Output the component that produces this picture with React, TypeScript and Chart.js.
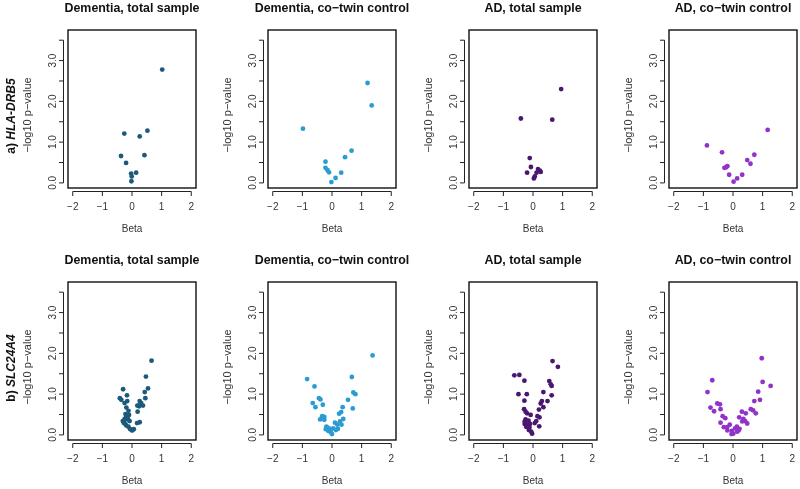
import { useEffect, useRef } from "react";
import { Chart, registerables } from "chart.js";
Chart.register(...registerables);

const FONT = "'Liberation Sans', Arial, sans-serif";

const panelTitles = [
  "Dementia, total sample",
  "Dementia, co\u2212twin control",
  "AD, total sample",
  "AD, co\u2212twin control",
];
const rowPrefixes = ["a) ", "b) "];
const rowGenes = ["HLA-DRB5", "SLC24A4"];
const panelColors = ["#1c5a7a", "#2b9cd1", "#4a1770", "#9232c8"];
const xTicks = [-2, -1, 0, 1, 2];
const yTicks = [0, 0.5, 1, 1.5, 2, 2.5, 3, 3.5];
const yLabelTicks = [0, 1, 2, 3];
const xTitle = "Beta";
const yTitle = "\u2212log10 p\u2212value";

// Row a) HLA-DRB5
const hlaDemTotalBeta = [1.02, 0.52, -0.26, 0.26, -0.37, 0.42, -0.2, -0.03, 0.14, -0.01, -0.02];
const hlaDemTotalLogP = [2.78, 1.28, 1.21, 1.14, 0.66, 0.68, 0.49, 0.23, 0.25, 0.16, 0.04];
const hlaDemTwinBeta = [1.2, 1.34, -0.98, 0.66, 0.44, -0.22, -0.22, -0.15, -0.1, 0.31, 0.12, -0.02];
const hlaDemTwinLogP = [2.45, 1.9, 1.33, 0.79, 0.63, 0.52, 0.37, 0.31, 0.26, 0.25, 0.12, 0.02];
const hlaAdTotalBeta = [0.95, -0.41, 0.65, -0.11, -0.07, -0.2, 0.17, 0.23, 0.12, 0.26, 0.06, 0.03];
const hlaAdTotalLogP = [2.3, 1.58, 1.55, 0.61, 0.39, 0.25, 0.34, 0.3, 0.25, 0.27, 0.16, 0.11];
const hlaAdTwinBeta = [1.17, -0.88, -0.37, 0.72, 0.48, 0.59, -0.19, -0.29, -0.24, -0.13, 0.31, 0.14, 0.02];
const hlaAdTwinLogP = [1.3, 0.92, 0.75, 0.69, 0.56, 0.47, 0.41, 0.37, 0.38, 0.2, 0.2, 0.11, 0.03];

// Row b) SLC24A4
const slcDemTotalBeta = [0.66, 0.47, 0.54, -0.3, 0.43, -0.17, -0.41, -0.36, -0.16, 0.45, 0.26, 0.31, 0.18, 0.37, 0.24, -0.25, -0.19, -0.12, 0.19, -0.22, -0.19, -0.14, -0.25, -0.15, -0.31, -0.08, -0.26, 0.17, 0.26, -0.19, -0.12, -0.06, 0.0, 0.06, -0.22, -0.28, 0.22, 0.3, -0.1, 0.02];
const slcDemTotalLogP = [1.82, 1.43, 1.14, 1.12, 1.05, 0.97, 0.9, 0.86, 0.83, 0.9, 0.83, 0.78, 0.72, 0.72, 0.7, 0.78, 0.67, 0.59, 0.57, 0.51, 0.45, 0.4, 0.39, 0.38, 0.34, 0.34, 0.29, 0.29, 0.31, 0.23, 0.2, 0.14, 0.11, 0.14, 0.26, 0.3, 0.72, 0.75, 0.49, 0.12];
const slcDemTwinBeta = [1.37, -0.84, 0.67, -0.59, 0.72, 0.79, -0.44, -0.39, 0.54, -0.65, -0.56, -0.31, 0.36, 0.7, 0.31, 0.24, -0.33, -0.26, -0.4, -0.26, 0.38, 0.27, 0.1, 0.18, 0.32, -0.19, -0.1, -0.21, 0.04, 0.13, -0.13, -0.04, 0.0, 0.2, -0.05, -0.15];
const slcDemTwinLogP = [1.95, 1.37, 1.42, 1.19, 1.04, 1.0, 0.9, 0.87, 0.86, 0.78, 0.68, 0.74, 0.68, 0.65, 0.56, 0.52, 0.46, 0.44, 0.38, 0.37, 0.39, 0.33, 0.3, 0.25, 0.25, 0.2, 0.16, 0.14, 0.16, 0.12, 0.1, 0.06, 0.02, 0.15, 0.12, 0.18];
const slcAdTotalBeta = [0.66, 0.84, -0.63, -0.46, -0.29, 0.55, 0.6, 0.63, -0.49, -0.21, 0.35, 0.63, -0.29, 0.3, 0.49, 0.26, 0.35, -0.3, 0.2, -0.25, -0.2, -0.08, 0.15, 0.22, -0.25, -0.15, 0.11, 0.06, -0.28, -0.19, -0.1, 0.21, -0.23, -0.12, -0.14, -0.06, -0.03, -0.28];
const slcAdTotalLogP = [1.81, 1.67, 1.46, 1.47, 1.33, 1.32, 1.24, 1.2, 1.0, 1.0, 1.05, 0.97, 0.84, 0.83, 0.83, 0.77, 0.68, 0.63, 0.62, 0.57, 0.53, 0.49, 0.46, 0.43, 0.38, 0.35, 0.34, 0.29, 0.27, 0.25, 0.27, 0.21, 0.2, 0.18, 0.12, 0.08, 0.03, 0.33];
const slcAdTwinBeta = [0.97, -0.7, 1.0, 1.27, -0.86, 0.85, 0.91, 0.72, -0.53, -0.44, -0.76, -0.42, -0.64, 0.6, 0.68, 0.77, 0.3, 0.43, -0.35, -0.26, 0.21, 0.35, -0.42, 0.41, 0.48, 0.31, -0.31, -0.2, -0.11, -0.19, -0.04, 0.01, -0.05, 0.13, 0.19, 0.14, 0.22, 0.07];
const slcAdTwinLogP = [1.88, 1.34, 1.3, 1.2, 1.05, 1.06, 0.86, 0.83, 0.77, 0.75, 0.67, 0.63, 0.58, 0.63, 0.6, 0.53, 0.57, 0.53, 0.46, 0.41, 0.43, 0.39, 0.3, 0.34, 0.28, 0.33, 0.19, 0.19, 0.25, 0.11, 0.1, 0.03, 0.02, 0.2, 0.11, 0.08, 0.15, 0.16];

const panelData = [
  [
    [hlaDemTotalBeta, hlaDemTotalLogP],
    [hlaDemTwinBeta, hlaDemTwinLogP],
    [hlaAdTotalBeta, hlaAdTotalLogP],
    [hlaAdTwinBeta, hlaAdTwinLogP],
  ],
  [
    [slcDemTotalBeta, slcDemTotalLogP],
    [slcDemTwinBeta, slcDemTwinLogP],
    [slcAdTotalBeta, slcAdTotalLogP],
    [slcAdTwinBeta, slcAdTwinLogP],
  ],
];

const CW = 264;
const CH = 237;

function fmtMinus(v: number, digits: number) {
  const s = Math.abs(v).toFixed(digits);
  return v < 0 ? "\u2212" + s : s;
}

const rAxesPlugin = {
  id: "rAxes",
  afterDraw(chart: any, _args: any, opts: any) {
    const { ctx, chartArea } = chart;
    const xs = chart.scales.x;
    const ys = chart.scales.y;
    const cx = (chartArea.left + chartArea.right) / 2;
    const cy = (chartArea.top + chartArea.bottom) / 2;
    ctx.save();
    // box
    ctx.strokeStyle = "#111";
    ctx.lineWidth = 1.4;
    ctx.strokeRect(chartArea.left, chartArea.top, chartArea.right - chartArea.left, chartArea.bottom - chartArea.top);
    // x axis
    ctx.lineWidth = 1;
    ctx.strokeStyle = "#222";
    const ax = chartArea.bottom + 3.5;
    ctx.beginPath();
    ctx.moveTo(xs.getPixelForValue(xTicks[0]), ax);
    ctx.lineTo(xs.getPixelForValue(xTicks[xTicks.length - 1]), ax);
    xTicks.forEach((v) => {
      const p = xs.getPixelForValue(v);
      ctx.moveTo(p, ax);
      ctx.lineTo(p, ax + 4.5);
    });
    ctx.stroke();
    // y axis
    const ay = chartArea.left - 4.5;
    ctx.beginPath();
    ctx.moveTo(ay, ys.getPixelForValue(yTicks[0]));
    ctx.lineTo(ay, ys.getPixelForValue(yTicks[yTicks.length - 1]));
    yTicks.forEach((v) => {
      const p = ys.getPixelForValue(v);
      ctx.moveTo(ay, p);
      ctx.lineTo(ay - 4.5, p);
    });
    ctx.stroke();
    // panel title
    ctx.fillStyle = "#111";
    ctx.textBaseline = "middle";
    ctx.textAlign = "center";
    ctx.font = `bold 12.4px ${FONT}`;
    ctx.fillText(opts.title, cx, 9);
    // y axis title
    ctx.save();
    ctx.translate(28, cy + 6);
    ctx.rotate(-Math.PI / 2);
    ctx.fillStyle = "#333";
    ctx.font = `11px ${FONT}`;
    ctx.fillText(yTitle, 0, 0);
    ctx.restore();
    // row label
    if (opts.gene) {
      ctx.translate(12, cy + 7);
      ctx.rotate(-Math.PI / 2);
      ctx.fillStyle = "#111";
      ctx.textBaseline = "middle";
      ctx.textAlign = "left";
      const f1 = `bold 12px ${FONT}`;
      const f2 = `italic bold 12px ${FONT}`;
      ctx.font = f1;
      const w1 = ctx.measureText(opts.prefix).width;
      ctx.font = f2;
      const w2 = ctx.measureText(opts.gene).width;
      const start = -(w1 + w2) / 2;
      ctx.font = f1;
      ctx.fillText(opts.prefix, start, 0);
      ctx.font = f2;
      ctx.fillText(opts.gene, start + w1, 0);
    }
    ctx.restore();
  },
};

function Panel({ row, col }: { row: number; col: number }) {
  const ref = useRef<HTMLCanvasElement | null>(null);
  useEffect(() => {
    if (!ref.current) return;
    const [bx, by] = panelData[row][col];
    const tickFont = { family: FONT, size: 10 };
    const chart = new Chart(ref.current, {
      type: "scatter",
      data: {
        datasets: [
          {
            data: bx.map((b, i) => ({ x: b, y: by[i] })),
            backgroundColor: panelColors[col],
            borderColor: panelColors[col],
            borderWidth: 0,
            pointRadius: 2.4,
          },
        ],
      },
      options: {
        responsive: false,
        animation: false,
        layout: { padding: { left: 0, right: 68, top: 30, bottom: 0 } },
        plugins: {
          legend: { display: false },
          tooltip: { enabled: false },
          title: { display: false },
          rAxes: {
            title: panelTitles[col],
            prefix: col === 0 ? rowPrefixes[row] : "",
            gene: col === 0 ? rowGenes[row] : "",
          },
        } as any,
        scales: {
          x: {
            type: "linear",
            min: -2.16,
            max: 2.16,
            afterBuildTicks: (s: any) => {
              s.ticks = xTicks.map((v) => ({ value: v }));
            },
            afterFit: (s: any) => {
              s.height = 49;
            },
            grid: { display: false, drawTicks: false },
            border: { display: false },
            ticks: {
              autoSkip: false,
              maxRotation: 0,
              padding: 13,
              color: "#333",
              font: tickFont,
              callback: (v: any) => fmtMinus(Number(v), 0),
            },
            title: { display: true, text: xTitle, color: "#333", font: tickFont, padding: { top: 0, bottom: 1.3 } },
          },
          y: {
            type: "linear",
            min: -0.125,
            max: 3.75,
            afterBuildTicks: (s: any) => {
              s.ticks = yTicks.map((v) => ({ value: v }));
            },
            afterFit: (s: any) => {
              s.width = 68;
            },
            grid: { display: false, drawTicks: false },
            border: { display: false },
            ticks: {
              autoSkip: false,
              minRotation: 90,
              maxRotation: 90,
              crossAlign: "center",
              padding: 8,
              color: "#333",
              font: tickFont,
              callback: (v: any) => (yLabelTicks.includes(Number(v)) ? Number(v).toFixed(1) : ""),
            },
            title: { display: false },
          },
        },
      } as any,
      plugins: [rAxesPlugin as any],
    });
    return () => chart.destroy();
  }, [row, col]);
  const left = Math.round(col * 200.3);
  const top = row * 252;
  return (
    <canvas
      ref={ref}
      width={CW}
      height={CH}
      style={{ position: "absolute", left, top, width: CW, height: CH }}
    />
  );
}

export default function App() {
  const cells: any[] = [];
  for (let r = 0; r < 2; r++) for (let c = 0; c < 4; c++) cells.push(<Panel key={`${r}-${c}`} row={r} col={c} />);
  return (
    <div
      style={{
        position: "absolute",
        left: 0,
        top: 0,
        width: 800,
        height: 489,
        overflow: "hidden",
        background: "#fff",
      }}
    >
      {cells}
    </div>
  );
}
